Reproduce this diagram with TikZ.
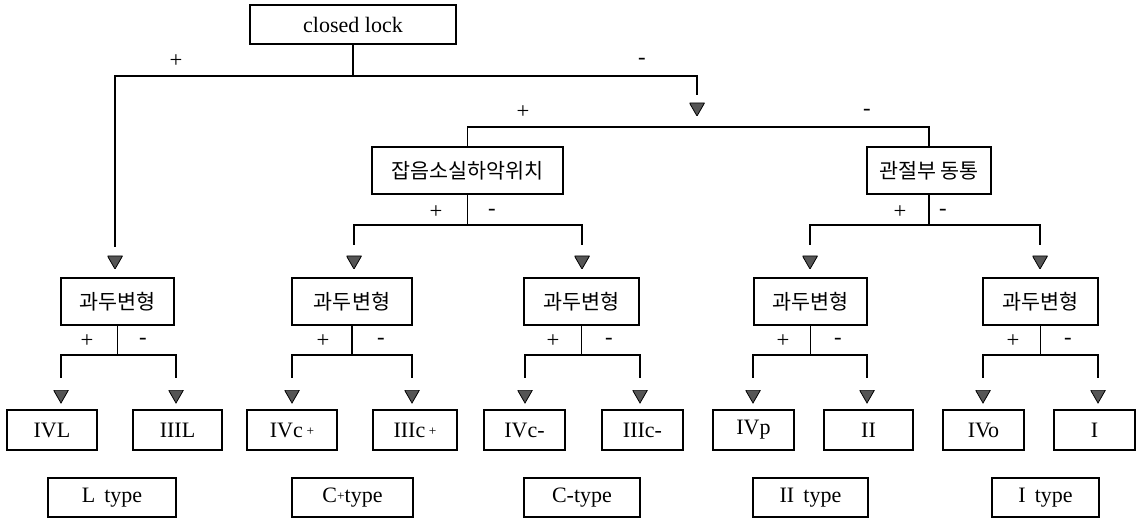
\documentclass[tikz,border=0pt]{standalone}
\usepackage{fontspec}
\setmainfont{Liberation Serif}
\newfontfamily\kr{Noto Sans CJK KR}
\definecolor{arrowgray}{RGB}{85,85,85}
\begin{document}
\begin{tikzpicture}[x=0.75pt,y=-0.75pt,
  box/.style={draw, line width=0.8pt, inner sep=0pt, align=center, minimum height=30pt, font=\fontsize{16.5}{16.5}\selectfont},
  krbox/.style={box, minimum height=35.25pt, font=\kr\fontsize{15.5}{16}\selectfont},
  leaf/.style={box, minimum height=30pt},
  typebox/.style={box, minimum height=29.25pt},
  lbl/.style={inner sep=0pt, font=\fontsize{17}{17}\selectfont},
  ln/.style={line width=0.8pt},
  tri/.style={minimum width=11.25pt, minimum height=9.75pt, inner sep=0pt, outer sep=0pt,
    path picture={\filldraw[draw=black, fill=arrowgray, line width=0.6pt]
      (path picture bounding box.north west) -- (path picture bounding box.north east)
      -- (path picture bounding box.south) -- cycle;}}]
\fill[white] (0,0) rectangle (1138,520);
\useasboundingbox (0,0) rectangle (1138,520);

% root
\node[box, minimum width=154.5pt, minimum height=29.25pt] (root) at (353,24.5) {closed lock};

% level 1
\node[krbox, minimum width=143.25pt] (jam) at (467.5,170.5) {잡음소실하악위치};
\node[krbox, minimum width=93pt] (gwan) at (929,170.5) {관절부 동통};

% level 2
\node[krbox, minimum width=84.75pt] (kL) at (117.5,301.5) {과두변형};
\node[krbox, minimum width=90pt] (kC1) at (352,301.5) {과두변형};
\node[krbox, minimum width=86.25pt] (kC2) at (581.5,301.5) {과두변형};
\node[krbox, minimum width=84.75pt] (kP) at (810.5,301.5) {과두변형};
\node[krbox, minimum width=86.25pt] (kO) at (1040.5,301.5) {과두변형};

% leaves
\node[leaf, minimum width=67.5pt] (IVL) at (52,430) {IVL};
\node[leaf, minimum width=66.75pt] (IIIL) at (177.5,430) {IIIL};
\node[leaf, minimum width=67.5pt] (IVcp) at (292,430) {IVc\,\raisebox{1.5pt}{\fontsize{10}{10}\selectfont +}};
\node[leaf, minimum width=63pt] (IIIcp) at (415,430) {IIIc\,\raisebox{1.5pt}{\fontsize{10}{10}\selectfont +}};
\node[leaf, minimum width=60.75pt] (IVcm) at (524.5,430) {IVc-};
\node[leaf, minimum width=60.75pt] (IIIcm) at (642.5,430) {IIIc-};
\node[leaf, minimum width=60.75pt] (IVp) at (753.5,430) {IVp};
\node[leaf, minimum width=66.75pt] (II) at (868.5,430) {II};
\node[leaf, minimum width=60.75pt] (IVo) at (983.5,430) {IVo};
\node[leaf, minimum width=60.75pt] (I) at (1094.5,430) {I};

% types
\node[typebox, minimum width=96pt] (tL) at (112,497.5) {L\, type};
\node[typebox, minimum width=90.75pt] (tCp) at (352.5,497.5) {C\raisebox{1.5pt}{\fontsize{10}{10}\selectfont +}type};
\node[typebox, minimum width=87pt] (tCm) at (582,497.5) {C-type};
\node[typebox, minimum width=86.25pt] (tII) at (810.5,497.5) {II\, type};
\node[typebox, minimum width=80.25pt] (tI) at (1045.5,497.5) {I\, type};

% arrow markers
\node[tri] (aL) at (115,262.5) {};
\node[tri] (a0) at (697,109.5) {};
\node[tri] (aC1) at (354,262.5) {};
\node[tri] (aC2) at (582,262.5) {};
\node[tri] (aP) at (810,262.5) {};
\node[tri] (aO) at (1040,262.5) {};

% top connectors
\coordinate (r0) at (353,76);
\draw[ln] (root.south) -- (r0);
\draw[ln] (r0) -| ([yshift=7pt]aL.north);
\draw[ln] (r0) -| ([yshift=6pt]a0.north);
\coordinate (m1) at (697,127);
\draw[ln] (jam.north) |- (m1) -| (gwan.north);

% level 1 -> level 2
\coordinate (hJ) at (467.5,225);
\draw[ln] (jam.south) -- (hJ);
\draw[ln] (hJ) -| ([yshift=8.5pt]aC1.north);
\draw[ln] (hJ) -| ([yshift=8.5pt]aC2.north);
\coordinate (hG) at (929,225);
\draw[ln] (gwan.south) -- (hG);
\draw[ln] (hG) -| ([yshift=8.5pt]aP.north);
\draw[ln] (hG) -| ([yshift=8.5pt]aO.north);

% level 2 -> leaves
\foreach \n/\x/\a/\b in {L/117.5/61/176, C1/352/292/412, C2/581.5/525/640, P/810.5/753/867, O/1040.5/983/1098}{
  \node[tri] (b\n1) at (\a,396.5) {};
  \node[tri] (b\n2) at (\b,396.5) {};
  \coordinate (h\n) at (\x,355);
  \draw[ln] (k\n.south) -- (h\n);
  \draw[ln] (h\n) -| ([yshift=9pt]b\n1.north);
  \draw[ln] (h\n) -| ([yshift=9pt]b\n2.north);
}

% sign labels
\node[lbl] (p0) at (176,61) {+};
\node[lbl] (m0) at (642,61) {-};
\node[lbl] (p1) at (523,112) {+};
\node[lbl] (m1l) at (867,112) {-};
\node[lbl] (pJ) at (436,212) {+};
\node[lbl] (mJ) at (492,212) {-};
\node[lbl] (pG) at (900,212) {+};
\node[lbl] (mG) at (943,212) {-};
\node[lbl] (pL) at (87,341) {+};
\node[lbl] (mL) at (143,341) {-};
\node[lbl] (pC1) at (323,341) {+};
\node[lbl] (mC1) at (381,341) {-};
\node[lbl] (pC2) at (553,341) {+};
\node[lbl] (mC2) at (609,341) {-};
\node[lbl] (pP) at (783,341) {+};
\node[lbl] (mP) at (838,341) {-};
\node[lbl] (pO) at (1013,341) {+};
\node[lbl] (mO) at (1068,341) {-};
\end{tikzpicture}
\end{document}
